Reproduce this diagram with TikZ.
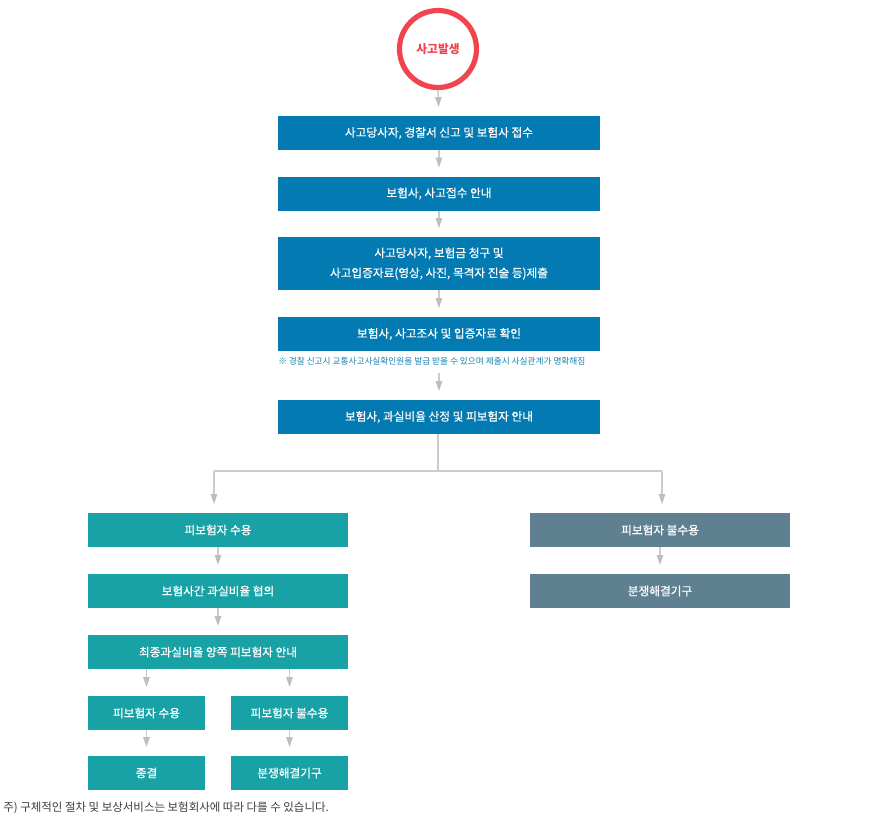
\documentclass[tikz,border=0pt]{standalone}
\usepackage{fontspec}
\setmainfont{Noto Sans CJK KR}
\newfontfamily\boxfont[FakeBold=0.5]{Noto Sans CJK KR}
\usetikzlibrary{arrows.meta}

\definecolor{stepblue}{RGB}{3,122,177}
\definecolor{stepteal}{RGB}{24,162,165}
\definecolor{stepslate}{RGB}{94,128,145}
\definecolor{startred}{RGB}{240,68,79}
\definecolor{linegray}{RGB}{204,204,204}
\definecolor{tipgray}{RGB}{190,190,190}
\definecolor{notegray}{RGB}{60,60,60}
\definecolor{noteblue}{RGB}{20,130,175}

\begin{document}
\begin{tikzpicture}[x=0.75pt,y=-0.75pt,
  box/.style={rectangle, inner sep=0pt, text=white, align=center,
    font=\boxfont\fontsize{8.75}{15}\selectfont},
  bluebox/.style={box, fill=stepblue, minimum width=241.5pt, minimum height=25.5pt},
  tealbox/.style={box, fill=stepteal, minimum width=195pt, minimum height=25.5pt},
  slatebox/.style={box, fill=stepslate, minimum width=195pt, minimum height=25.5pt},
  smallbox/.style={box, fill=stepteal, minimum width=87.75pt, minimum height=25.5pt},
  flow/.style={draw=linegray, line width=1.1pt,
    -{Triangle[width=4.8pt,length=7.5pt,color=tipgray]}, shorten >=6.5pt},
  link/.style={draw=linegray, line width=1.1pt}
]
\useasboundingbox (0,0) rectangle (877,819);

% start event
\node[circle, draw=startred, line width=3.9pt, fill=white, minimum size=57.75pt,
  inner sep=0pt, text=startred, font=\bfseries\fontsize{8.8}{10}\selectfont]
  (start) at (438,49) {사고발생};

% main sequence
\node[bluebox] (b1) at (439,133) {사고당사자, 경찰서 신고 및 보험사 접수};
\node[bluebox] (b2) at (439,193.5) {보험사, 사고접수 안내};
\node[bluebox, minimum height=39.75pt] (b3) at (439,263.5)
  {사고당사자, 보험금 청구 및\\사고입증자료(영상, 사진, 목격자 진술 등)제출};
\node[bluebox] (b4) at (439,334) {보험사, 사고조사 및 입증자료 확인};
\node[anchor=west, inner sep=0pt, text=noteblue, font=\fontsize{6.5}{8}\selectfont]
  (note) at (278,361.5) {※ 경찰 신고시 교통사고사실확인원을 발급 받을 수 있으며 제출시 사실관계가 명확해짐};
\node[bluebox] (b5) at (439,417) {보험사, 과실비율 산정 및 피보험자 안내};

% accepted branch
\node[tealbox] (l1) at (218,530) {피보험자 수용};
\node[tealbox] (l2) at (218,591) {보험사간 과실비율 협의};
\node[tealbox] (l3) at (218,652) {최종과실비율 양쪽 피보험자 안내};
\node[smallbox] (s1) at (146.5,713) {피보험자 수용};
\node[smallbox] (s2) at (289.5,713) {피보험자 불수용};
\node[smallbox] (s3) at (146.5,773) {종결};
\node[smallbox] (s4) at (289.5,773) {분쟁해결기구};

% rejected branch
\node[slatebox] (r1) at (660,530) {피보험자 불수용};
\node[slatebox] (r2) at (660,591) {분쟁해결기구};

% footnote
\node[anchor=west, inner sep=0pt, text=notegray, font=\fontsize{8.6}{10}\selectfont]
  (foot) at (3,808) {주) 구체적인 절차 및 보상서비스는 보험회사에 따라 다를 수 있습니다.};

% connectors
\draw[flow] (start.south) -- (b1.north);
\draw[flow] (b1) -- (b2);
\draw[flow] (b2) -- (b3);
\draw[flow] (b3) -- (b4);
\draw[flow] ([yshift=-16.5pt]b4.south) -- (b5.north);

\coordinate (split) at (438,471);
\coordinate (splitL) at (214,471);
\coordinate (splitR) at (662,471);
\draw[link] (b5.south -| split) -- (split);
\draw[link] (splitL) -- (splitR);
\draw[flow] (splitL) -- (splitL |- l1.north);
\draw[flow] (splitR) -- (splitR |- r1.north);

\draw[flow] (l1) -- (l2);
\draw[flow] (l2) -- (l3);
\draw[flow] (l3.south -| s1) -- (s1.north);
\draw[flow] (l3.south -| s2) -- (s2.north);
\draw[flow] (s1) -- (s3);
\draw[flow] (s2) -- (s4);
\draw[flow] (r1) -- (r2);
\end{tikzpicture}
\end{document}
